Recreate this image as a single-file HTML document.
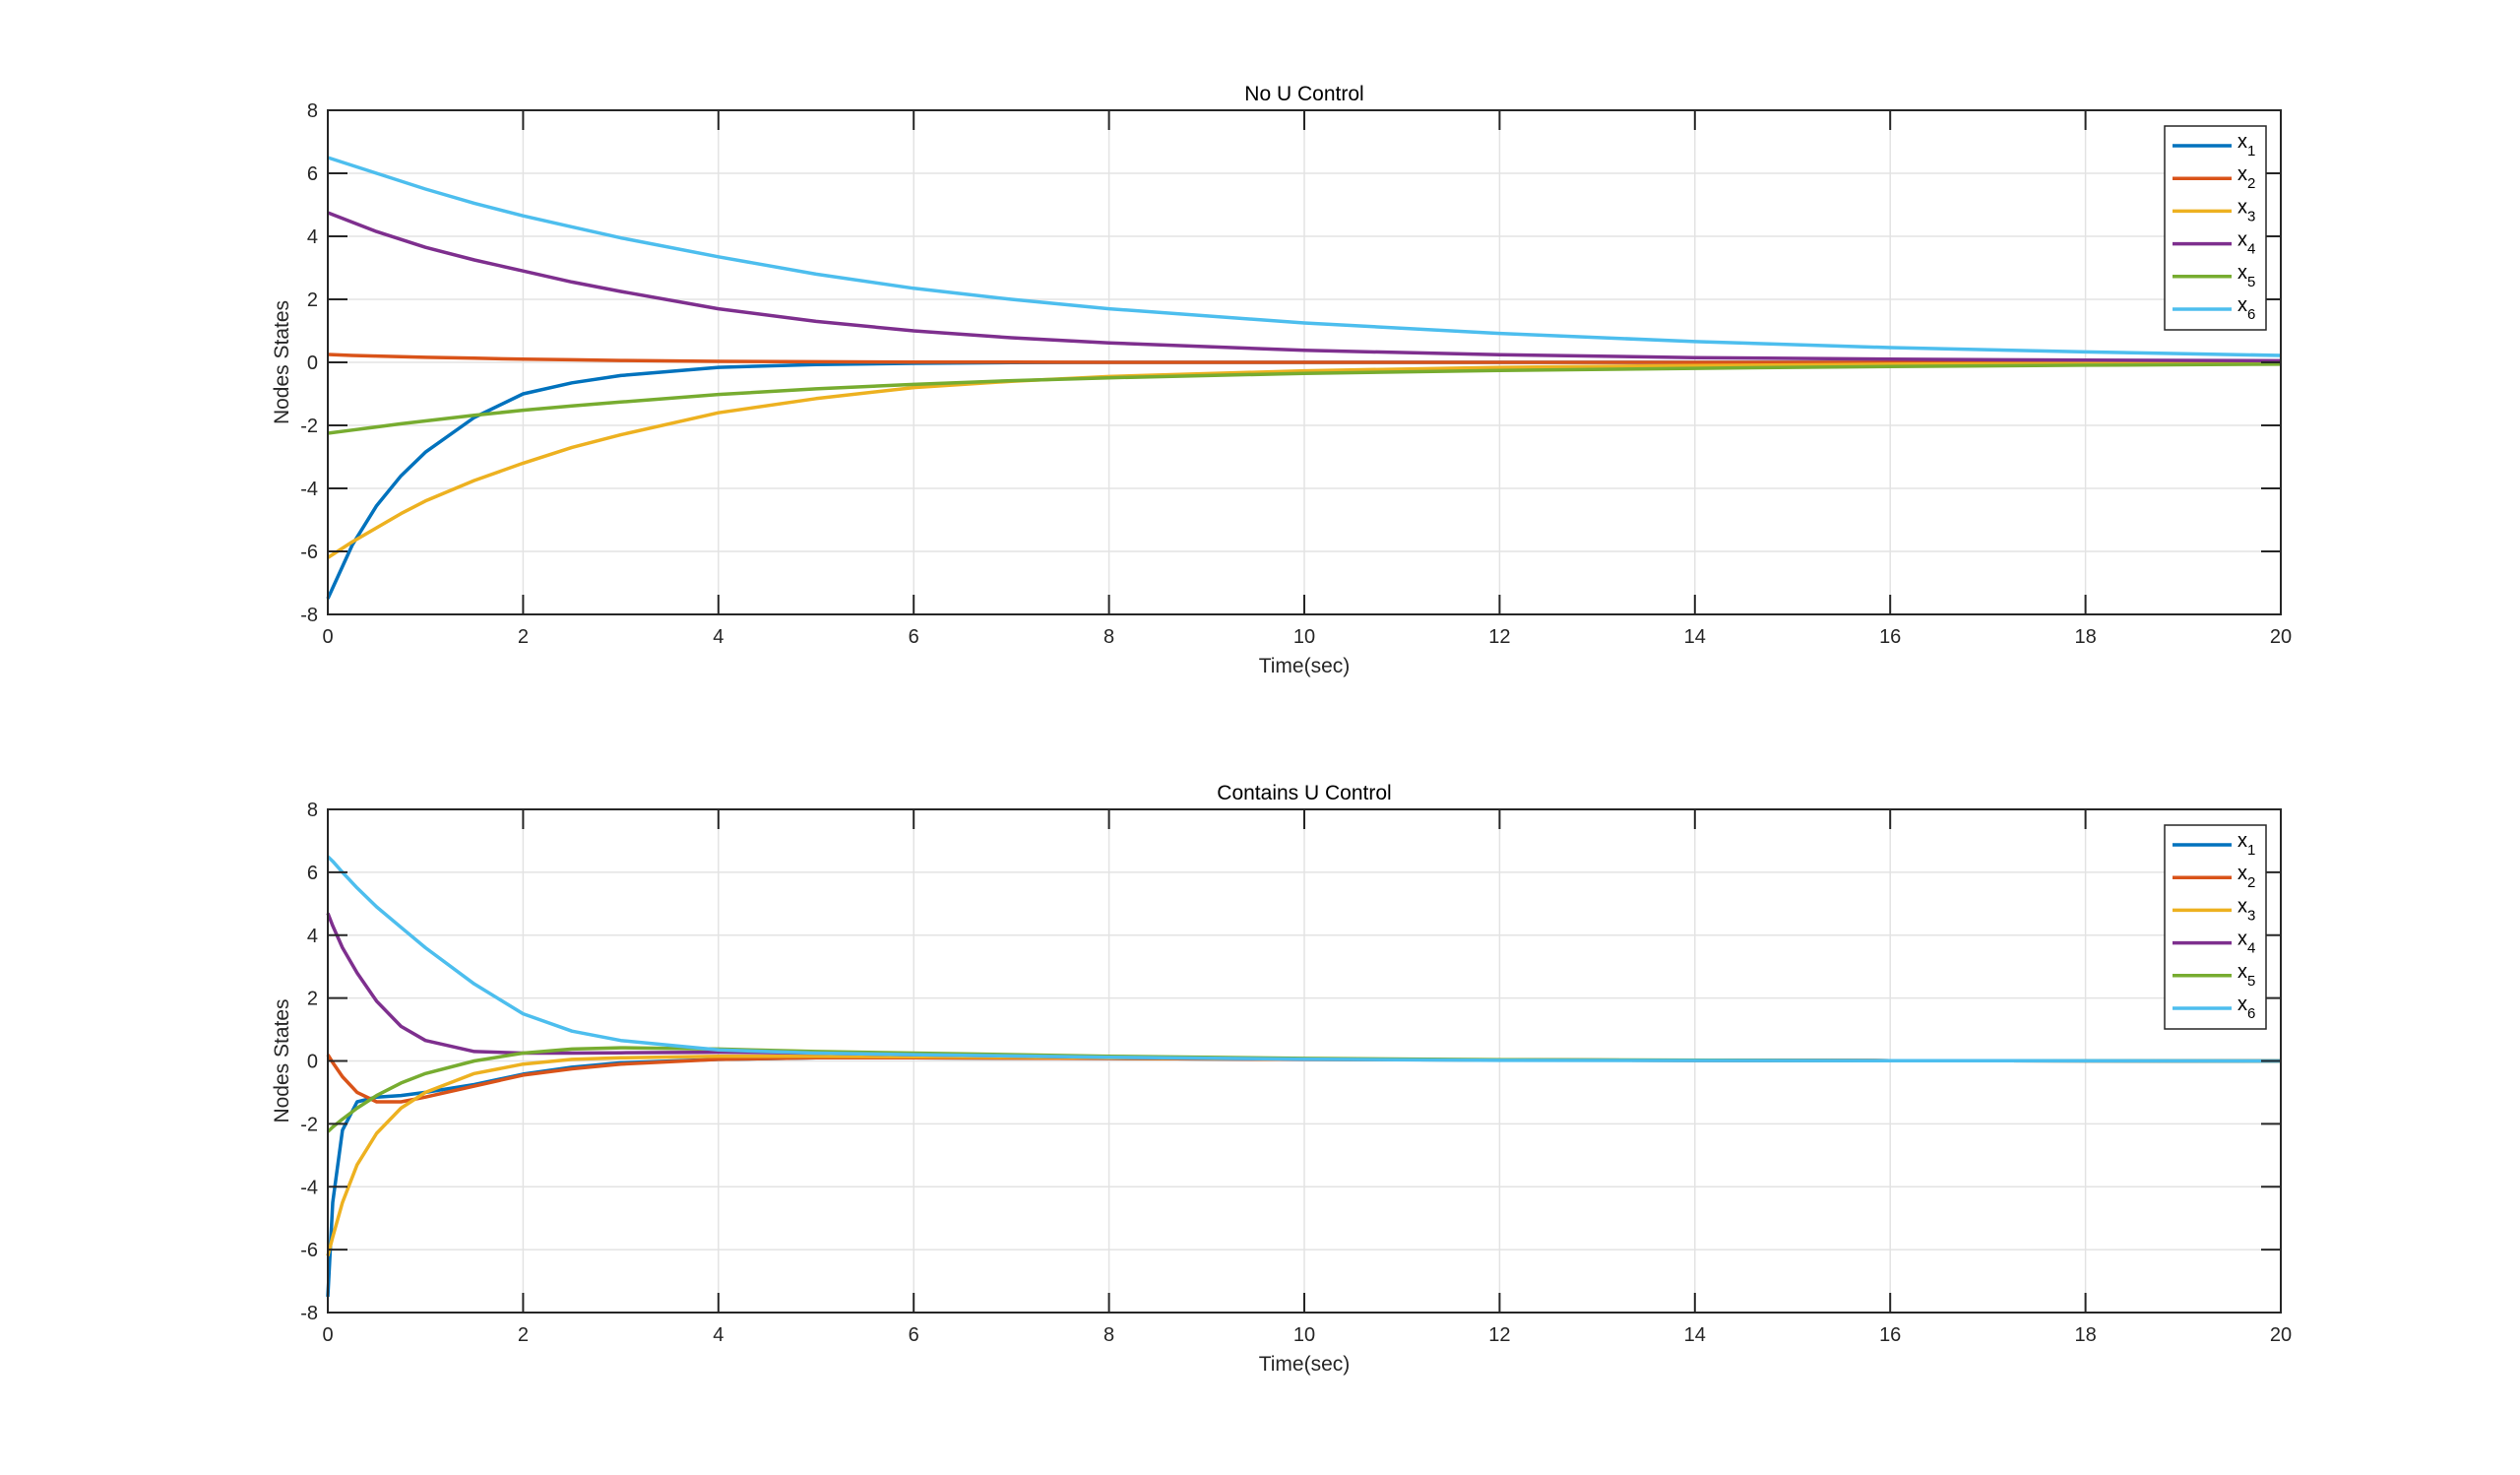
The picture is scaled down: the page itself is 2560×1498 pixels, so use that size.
<!DOCTYPE html>
<html><head><meta charset="utf-8"><style>
html,body{margin:0;padding:0;background:#fff;}
svg{display:block;font-family:"Liberation Sans",Arial,sans-serif;}
</style></head><body>
<svg id="fig" width="2560" height="1498" viewBox="0 0 2560 1498"></svg>
<script>
const tTop = [0,0.25,0.5,0.75,1,1.5,2,2.5,3,4,5,6,7,8,10,12,14,16,18,20];
const x1Top = [-7.5,-5.8,-4.55,-3.6,-2.85,-1.75,-1.0,-0.65,-0.42,-0.16,-0.07,-0.03,-0.01,0,0,0,0,0,0,0];
const x2Top = [0.25,0.22,0.2,0.18,0.16,0.13,0.1,0.08,0.06,0.03,0.02,0.01,0.01,0,0,0,0,0,0,0];
const x3Top = [-6.2,-5.7,-5.25,-4.8,-4.4,-3.75,-3.2,-2.7,-2.3,-1.6,-1.15,-0.8,-0.6,-0.45,-0.27,-0.16,-0.1,-0.06,-0.04,-0.03];
const x4Top = [4.75,4.45,4.15,3.9,3.65,3.25,2.9,2.55,2.25,1.7,1.3,1.0,0.78,0.62,0.38,0.24,0.15,0.1,0.07,0.05];
const x5Top = [-2.25,-2.15,-2.05,-1.95,-1.86,-1.68,-1.52,-1.38,-1.26,-1.02,-0.84,-0.7,-0.58,-0.49,-0.35,-0.26,-0.19,-0.13,-0.09,-0.06];
const x6Top = [6.5,6.25,6.0,5.75,5.5,5.05,4.65,4.3,3.95,3.35,2.8,2.35,2.0,1.7,1.25,0.92,0.66,0.47,0.33,0.22];

const tBot = [0,0.05,0.15,0.3,0.5,0.75,1,1.5,2,2.5,3,4,5,6,8,10,12,16,20];
const x1Bot = [-7.5,-4.5,-2.2,-1.3,-1.15,-1.1,-1.0,-0.75,-0.42,-0.2,-0.06,0.05,0.1,0.1,0.08,0.05,0.03,0.01,0];
const x2Bot = [0.2,-0.05,-0.5,-1.0,-1.3,-1.3,-1.15,-0.8,-0.45,-0.25,-0.1,0.05,0.1,0.1,0.08,0.05,0.03,0.01,0];
const x3Bot = [-6.2,-5.6,-4.5,-3.3,-2.3,-1.5,-1.0,-0.4,-0.1,0.05,0.1,0.15,0.15,0.13,0.1,0.06,0.03,0.01,0];
const x4Bot = [4.7,4.3,3.6,2.8,1.9,1.1,0.65,0.3,0.25,0.25,0.26,0.28,0.25,0.2,0.12,0.06,0.03,0.01,0];
const x5Bot = [-2.25,-2.1,-1.85,-1.5,-1.1,-0.7,-0.4,0.0,0.25,0.38,0.42,0.38,0.3,0.25,0.15,0.08,0.04,0.01,0];
const x6Bot = [6.5,6.35,6.0,5.5,4.9,4.25,3.6,2.45,1.5,0.95,0.65,0.35,0.25,0.2,0.12,0.06,0.02,0.01,0];

const xTicks = [0,2,4,6,8,10,12,14,16,18,20];
const yTicks = [-8,-6,-4,-2,0,2,4,6,8];
const seriesNames = ["x1","x2","x3","x4","x5","x6"];
const subs = ["1","2","3","4","5","6"];
const colors = ["#0072BD","#D95319","#EDB120","#7E2F8E","#77AC30","#4DBEEE"];

const NS="http://www.w3.org/2000/svg";
const svg=document.getElementById('fig');
function mk(tag,attrs,parent){const e=document.createElementNS(NS,tag);for(const k in attrs)e.setAttribute(k,attrs[k]);(parent||svg).appendChild(e);return e;}

function drawPanel(key,top,bottom,title,t,series){
  const L=333,R=2317;
  const sx=v=>L+(v-0)/(20-0)*(R-L);
  const sy=v=>bottom-(v+8)/16*(bottom-top);
  const g=mk('g',{});
  
  
  // grid
  xTicks.forEach(v=>{const l=mk('line',{x1:sx(v),x2:sx(v),y1:top,y2:bottom,stroke:'#e3e3e3','stroke-width':1.5},g);
    });
  yTicks.forEach(v=>{const l=mk('line',{x1:L,x2:R,y1:sy(v),y2:sy(v),stroke:'#e3e3e3','stroke-width':1.5},g);
    });
  // series
  series.forEach((s,i)=>{
    const pts=t.map((tv,j)=>sx(tv).toFixed(1)+','+sy(s[j]).toFixed(1)).join(' ');
    const p=mk('polyline',{points:pts,fill:'none',stroke:colors[i],'stroke-width':3.5,'stroke-linejoin':'round'},g);
    
    
  });
  // box
  const b=mk('rect',{x:L,y:top,width:R-L,height:bottom-top,fill:'none',stroke:'#262626','stroke-width':2},g);
  
  // ticks
  xTicks.forEach(v=>{
    mk('line',{x1:sx(v),x2:sx(v),y1:bottom,y2:bottom-20,stroke:'#262626','stroke-width':2},g);
    mk('line',{x1:sx(v),x2:sx(v),y1:top,y2:top+20,stroke:'#262626','stroke-width':2},g);
    const tx=mk('text',{x:sx(v),y:bottom+29,'font-size':20,'text-anchor':'middle',fill:'#262626'},g);
    tx.textContent=v;
    
  });
  yTicks.forEach(v=>{
    mk('line',{x1:L,x2:L+20,y1:sy(v),y2:sy(v),stroke:'#262626','stroke-width':2},g);
    mk('line',{x1:R,x2:R-20,y1:sy(v),y2:sy(v),stroke:'#262626','stroke-width':2},g);
    const tx=mk('text',{x:L-10,y:sy(v)+7,'font-size':20,'text-anchor':'end',fill:'#262626'},g);
    tx.textContent=v;
    
  });
  const ti=mk('text',{x:(L+R)/2,y:top-10,'font-size':21,'text-anchor':'middle',fill:'#000'},g);
  ti.textContent=title;
  const xl=mk('text',{x:(L+R)/2,y:bottom+59,'font-size':21,'text-anchor':'middle',fill:'#262626'},g);
  xl.textContent='Time(sec)';
  const ycx=293, ycy=(top+bottom)/2;
  const yl=mk('text',{x:ycx,y:ycy,'font-size':21,'text-anchor':'middle',fill:'#262626',transform:`rotate(-90 ${ycx} ${ycy})`},g);
  yl.textContent='Nodes States';
  // legend
  const lt=top+16, lg=mk('g',{},g);
  
  mk('rect',{x:2199,y:lt,width:103,height:207,fill:'#fff',stroke:'#262626','stroke-width':1.5},lg);
  colors.forEach((c,i)=>{
    const cy=lt+20+i*33.2;
    const e=mk('g',{},lg);
    
    mk('line',{x1:2207,x2:2267,y1:cy,y2:cy,stroke:c,'stroke-width':3.5},e);
    const tx=mk('text',{x:2273,y:cy+2,'font-size':20,fill:'#000'},e);
    tx.textContent='x';
    const ts=mk('tspan',{dy:8,'font-size':15},tx);ts.textContent=subs[i];
  });
}
drawPanel('top',112,624,'No U Control',tTop,[x1Top,x2Top,x3Top,x4Top,x5Top,x6Top]);
drawPanel('bottom',822,1333,'Contains U Control',tBot,[x1Bot,x2Bot,x3Bot,x4Bot,x5Bot,x6Bot]);
</script>
</body></html>
